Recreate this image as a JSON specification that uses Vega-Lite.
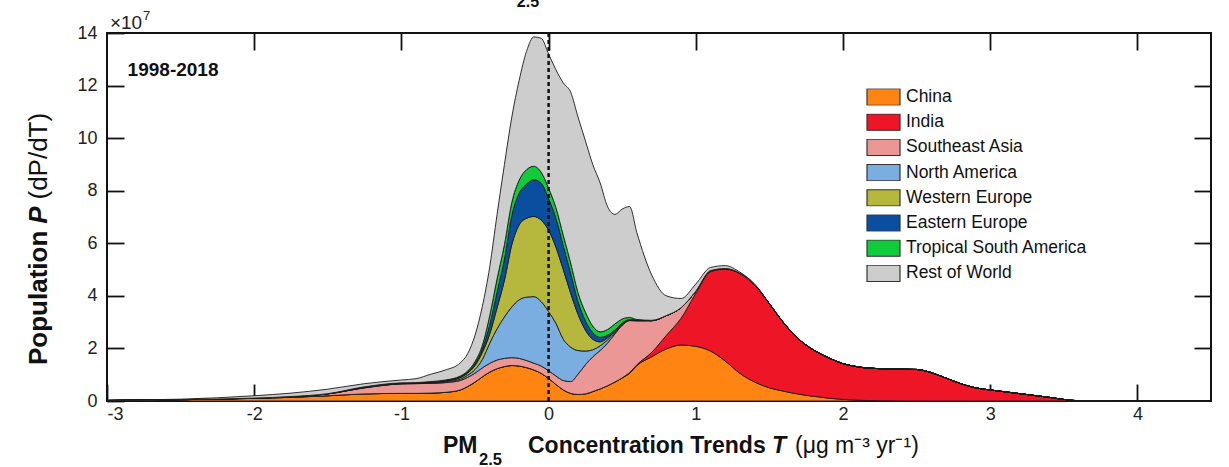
{
  "$schema": "https://vega.github.io/schema/vega-lite/v6.json",
  "width": 1104,
  "height": 368,
  "autosize": "none",
  "padding": {"left": 107, "top": 33, "right": 18, "bottom": 66},
  "config": {
    "font": "Liberation Sans",
    "view": {"stroke": "#111", "strokeWidth": 2},
    "text": {"font": "Liberation Sans", "color": "#111"},
    "axis": {"grid": false, "domain": false, "tickColor": "#111", "tickWidth": 1.8, "labelColor": "#222", "labelFontSize": 18, "titleColor": "#111", "labelFont": "Liberation Sans", "titleFont": "Liberation Sans"}
  },
  "data": {"values": [
    {"T": -3.0, "China": 0.02, "India": 0, "Southeast Asia": 0, "North America": 0, "Western Europe": 0, "Eastern Europe": 0, "Tropical South America": 0, "Rest of World": 0.01},
    {"T": -2.5, "China": 0.05, "India": 0, "Southeast Asia": 0, "North America": 0, "Western Europe": 0, "Eastern Europe": 0, "Tropical South America": 0, "Rest of World": 0.02},
    {"T": -2.0, "China": 0.10, "India": 0, "Southeast Asia": 0.01, "North America": 0, "Western Europe": 0, "Eastern Europe": 0, "Tropical South America": 0, "Rest of World": 0.09},
    {"T": -1.75, "China": 0.14, "India": 0, "Southeast Asia": 0.03, "North America": 0, "Western Europe": 0, "Eastern Europe": 0, "Tropical South America": 0, "Rest of World": 0.13},
    {"T": -1.5, "China": 0.20, "India": 0, "Southeast Asia": 0.07, "North America": 0, "Western Europe": 0.01, "Eastern Europe": 0, "Tropical South America": 0, "Rest of World": 0.17},
    {"T": -1.25, "China": 0.27, "India": 0, "Southeast Asia": 0.23, "North America": 0.01, "Western Europe": 0.01, "Eastern Europe": 0.01, "Tropical South America": 0.01, "Rest of World": 0.12},
    {"T": -1.0, "China": 0.29, "India": 0, "Southeast Asia": 0.36, "North America": 0.01, "Western Europe": 0.01, "Eastern Europe": 0.01, "Tropical South America": 0.01, "Rest of World": 0.11},
    {"T": -0.9, "China": 0.29, "India": 0, "Southeast Asia": 0.37, "North America": 0.01, "Western Europe": 0.01, "Eastern Europe": 0.01, "Tropical South America": 0.01, "Rest of World": 0.15},
    {"T": -0.8, "China": 0.30, "India": 0, "Southeast Asia": 0.37, "North America": 0.02, "Western Europe": 0.02, "Eastern Europe": 0.01, "Tropical South America": 0.02, "Rest of World": 0.28},
    {"T": -0.7, "China": 0.33, "India": 0, "Southeast Asia": 0.37, "North America": 0.03, "Western Europe": 0.03, "Eastern Europe": 0.02, "Tropical South America": 0.02, "Rest of World": 0.38},
    {"T": -0.6, "China": 0.42, "India": 0, "Southeast Asia": 0.36, "North America": 0.05, "Western Europe": 0.06, "Eastern Europe": 0.03, "Tropical South America": 0.03, "Rest of World": 0.50},
    {"T": -0.55, "China": 0.55, "India": 0, "Southeast Asia": 0.35, "North America": 0.08, "Western Europe": 0.08, "Eastern Europe": 0.04, "Tropical South America": 0.04, "Rest of World": 0.66},
    {"T": -0.5, "China": 0.72, "India": 0, "Southeast Asia": 0.34, "North America": 0.14, "Western Europe": 0.15, "Eastern Europe": 0.07, "Tropical South America": 0.08, "Rest of World": 1.00},
    {"T": -0.45, "China": 0.92, "India": 0, "Southeast Asia": 0.34, "North America": 0.32, "Western Europe": 0.27, "Eastern Europe": 0.13, "Tropical South America": 0.14, "Rest of World": 1.48},
    {"T": -0.4, "China": 1.10, "India": 0, "Southeast Asia": 0.33, "North America": 0.77, "Western Europe": 0.35, "Eastern Europe": 0.35, "Tropical South America": 0.35, "Rest of World": 1.85},
    {"T": -0.35, "China": 1.23, "India": 0, "Southeast Asia": 0.33, "North America": 1.19, "Western Europe": 0.80, "Eastern Europe": 0.60, "Tropical South America": 0.50, "Rest of World": 2.45},
    {"T": -0.3, "China": 1.31, "India": 0, "Southeast Asia": 0.31, "North America": 1.58, "Western Europe": 1.40, "Eastern Europe": 0.80, "Tropical South America": 0.55, "Rest of World": 3.05},
    {"T": -0.25, "China": 1.35, "India": 0, "Southeast Asia": 0.30, "North America": 1.93, "Western Europe": 2.37, "Eastern Europe": 1.10, "Tropical South America": 0.50, "Rest of World": 3.25},
    {"T": -0.2, "China": 1.33, "India": 0, "Southeast Asia": 0.29, "North America": 2.23, "Western Europe": 2.85, "Eastern Europe": 1.20, "Tropical South America": 0.50, "Rest of World": 3.80},
    {"T": -0.15, "China": 1.27, "India": 0, "Southeast Asia": 0.27, "North America": 2.41, "Western Europe": 3.00, "Eastern Europe": 1.30, "Tropical South America": 0.55, "Rest of World": 4.50},
    {"T": -0.1, "China": 1.18, "India": 0, "Southeast Asia": 0.26, "North America": 2.53, "Western Europe": 3.05, "Eastern Europe": 1.40, "Tropical South America": 0.51, "Rest of World": 4.92},
    {"T": -0.05, "China": 1.05, "India": 0, "Southeast Asia": 0.28, "North America": 2.45, "Western Europe": 3.10, "Eastern Europe": 1.40, "Tropical South America": 0.42, "Rest of World": 5.10},
    {"T": 0.0, "China": 0.86, "India": 0, "Southeast Asia": 0.29, "North America": 2.25, "Western Europe": 3.10, "Eastern Europe": 1.20, "Tropical South America": 0.40, "Rest of World": 5.10},
    {"T": 0.05, "China": 0.63, "India": 0, "Southeast Asia": 0.32, "North America": 2.00, "Western Europe": 2.90, "Eastern Europe": 1.10, "Tropical South America": 0.40, "Rest of World": 5.25},
    {"T": 0.1, "China": 0.42, "India": 0, "Southeast Asia": 0.36, "North America": 1.57, "Western Europe": 2.65, "Eastern Europe": 0.90, "Tropical South America": 0.40, "Rest of World": 5.80},
    {"T": 0.15, "China": 0.29, "India": 0, "Southeast Asia": 0.45, "North America": 1.31, "Western Europe": 2.05, "Eastern Europe": 0.75, "Tropical South America": 0.40, "Rest of World": 6.50},
    {"T": 0.2, "China": 0.25, "India": 0, "Southeast Asia": 0.77, "North America": 0.90, "Western Europe": 1.38, "Eastern Europe": 0.48, "Tropical South America": 0.34, "Rest of World": 6.68},
    {"T": 0.25, "China": 0.27, "India": 0, "Southeast Asia": 1.11, "North America": 0.52, "Western Europe": 0.80, "Eastern Europe": 0.35, "Tropical South America": 0.33, "Rest of World": 6.52},
    {"T": 0.3, "China": 0.36, "India": 0, "Southeast Asia": 1.32, "North America": 0.27, "Western Europe": 0.40, "Eastern Europe": 0.25, "Tropical South America": 0.25, "Rest of World": 6.15},
    {"T": 0.35, "China": 0.46, "India": 0, "Southeast Asia": 1.46, "North America": 0.18, "Western Europe": 0.15, "Eastern Europe": 0.17, "Tropical South America": 0.21, "Rest of World": 5.67},
    {"T": 0.4, "China": 0.58, "India": 0, "Southeast Asia": 1.62, "North America": 0.12, "Western Europe": 0.08, "Eastern Europe": 0.10, "Tropical South America": 0.22, "Rest of World": 4.68},
    {"T": 0.45, "China": 0.72, "India": 0, "Southeast Asia": 1.83, "North America": 0.05, "Western Europe": 0.04, "Eastern Europe": 0.06, "Tropical South America": 0.23, "Rest of World": 4.17},
    {"T": 0.5, "China": 0.88, "India": 0, "Southeast Asia": 2.00, "North America": 0.03, "Western Europe": 0.02, "Eastern Europe": 0.03, "Tropical South America": 0.16, "Rest of World": 4.18},
    {"T": 0.55, "China": 1.05, "India": 0.03, "Southeast Asia": 1.98, "North America": 0.02, "Western Europe": 0.01, "Eastern Europe": 0.01, "Tropical South America": 0.08, "Rest of World": 4.22},
    {"T": 0.6, "China": 1.35, "India": 0.03, "Southeast Asia": 1.67, "North America": 0.01, "Western Europe": 0.01, "Eastern Europe": 0.01, "Tropical South America": 0.02, "Rest of World": 3.30},
    {"T": 0.7, "China": 1.68, "India": 0.17, "Southeast Asia": 1.20, "North America": 0.01, "Western Europe": 0, "Eastern Europe": 0, "Tropical South America": 0.01, "Rest of World": 1.73},
    {"T": 0.8, "China": 1.98, "India": 0.52, "Southeast Asia": 0.75, "North America": 0, "Western Europe": 0, "Eastern Europe": 0, "Tropical South America": 0, "Rest of World": 0.75},
    {"T": 0.9, "China": 2.13, "India": 1.02, "Southeast Asia": 0.40, "North America": 0, "Western Europe": 0, "Eastern Europe": 0, "Tropical South America": 0, "Rest of World": 0.35},
    {"T": 1.0, "China": 2.08, "India": 2.02, "Southeast Asia": 0.08, "North America": 0, "Western Europe": 0, "Eastern Europe": 0, "Tropical South America": 0, "Rest of World": 0.27},
    {"T": 1.1, "China": 1.90, "India": 3.02, "Southeast Asia": 0.04, "North America": 0, "Western Europe": 0, "Eastern Europe": 0, "Tropical South America": 0, "Rest of World": 0.12},
    {"T": 1.2, "China": 1.52, "India": 3.50, "Southeast Asia": 0.02, "North America": 0, "Western Europe": 0, "Eastern Europe": 0, "Tropical South America": 0, "Rest of World": 0.11},
    {"T": 1.3, "China": 1.05, "India": 3.80, "Southeast Asia": 0.01, "North America": 0, "Western Europe": 0, "Eastern Europe": 0, "Tropical South America": 0, "Rest of World": 0.04},
    {"T": 1.4, "China": 0.72, "India": 3.70, "Southeast Asia": 0, "North America": 0, "Western Europe": 0, "Eastern Europe": 0, "Tropical South America": 0, "Rest of World": 0.03},
    {"T": 1.5, "China": 0.50, "India": 3.20, "Southeast Asia": 0, "North America": 0, "Western Europe": 0, "Eastern Europe": 0, "Tropical South America": 0, "Rest of World": 0.01},
    {"T": 1.6, "China": 0.37, "India": 2.58, "Southeast Asia": 0, "North America": 0, "Western Europe": 0, "Eastern Europe": 0, "Tropical South America": 0, "Rest of World": 0.01},
    {"T": 1.7, "China": 0.26, "India": 2.09, "Southeast Asia": 0, "North America": 0, "Western Europe": 0, "Eastern Europe": 0, "Tropical South America": 0, "Rest of World": 0},
    {"T": 1.8, "China": 0.18, "India": 1.76, "Southeast Asia": 0, "North America": 0, "Western Europe": 0, "Eastern Europe": 0, "Tropical South America": 0, "Rest of World": 0},
    {"T": 1.9, "China": 0.11, "India": 1.54, "Southeast Asia": 0, "North America": 0, "Western Europe": 0, "Eastern Europe": 0, "Tropical South America": 0, "Rest of World": 0},
    {"T": 2.0, "China": 0.06, "India": 1.36, "Southeast Asia": 0, "North America": 0, "Western Europe": 0, "Eastern Europe": 0, "Tropical South America": 0, "Rest of World": 0},
    {"T": 2.1, "China": 0.03, "India": 1.27, "Southeast Asia": 0, "North America": 0, "Western Europe": 0, "Eastern Europe": 0, "Tropical South America": 0, "Rest of World": 0},
    {"T": 2.25, "China": 0.01, "India": 1.22, "Southeast Asia": 0, "North America": 0, "Western Europe": 0, "Eastern Europe": 0, "Tropical South America": 0, "Rest of World": 0},
    {"T": 2.5, "China": 0, "India": 1.20, "Southeast Asia": 0, "North America": 0, "Western Europe": 0, "Eastern Europe": 0, "Tropical South America": 0, "Rest of World": 0},
    {"T": 2.6, "China": 0, "India": 1.08, "Southeast Asia": 0, "North America": 0, "Western Europe": 0, "Eastern Europe": 0, "Tropical South America": 0, "Rest of World": 0},
    {"T": 2.7, "China": 0, "India": 0.87, "Southeast Asia": 0, "North America": 0, "Western Europe": 0, "Eastern Europe": 0, "Tropical South America": 0, "Rest of World": 0},
    {"T": 2.8, "China": 0, "India": 0.66, "Southeast Asia": 0, "North America": 0, "Western Europe": 0, "Eastern Europe": 0, "Tropical South America": 0, "Rest of World": 0},
    {"T": 2.9, "China": 0, "India": 0.50, "Southeast Asia": 0, "North America": 0, "Western Europe": 0, "Eastern Europe": 0, "Tropical South America": 0, "Rest of World": 0},
    {"T": 3.0, "China": 0, "India": 0.42, "Southeast Asia": 0, "North America": 0, "Western Europe": 0, "Eastern Europe": 0, "Tropical South America": 0, "Rest of World": 0},
    {"T": 3.2, "China": 0, "India": 0.28, "Southeast Asia": 0, "North America": 0, "Western Europe": 0, "Eastern Europe": 0, "Tropical South America": 0, "Rest of World": 0},
    {"T": 3.4, "China": 0, "India": 0.14, "Southeast Asia": 0, "North America": 0, "Western Europe": 0, "Eastern Europe": 0, "Tropical South America": 0, "Rest of World": 0},
    {"T": 3.5, "China": 0, "India": 0.06, "Southeast Asia": 0, "North America": 0, "Western Europe": 0, "Eastern Europe": 0, "Tropical South America": 0, "Rest of World": 0},
    {"T": 3.6, "China": 0, "India": 0.01, "Southeast Asia": 0, "North America": 0, "Western Europe": 0, "Eastern Europe": 0, "Tropical South America": 0, "Rest of World": 0},
    {"T": 3.8, "China": 0, "India": 0, "Southeast Asia": 0, "North America": 0, "Western Europe": 0, "Eastern Europe": 0, "Tropical South America": 0, "Rest of World": 0},
    {"T": 4.5, "China": 0, "India": 0, "Southeast Asia": 0, "North America": 0, "Western Europe": 0, "Eastern Europe": 0, "Tropical South America": 0, "Rest of World": 0}
  ]},
  "layer": [
    {
      "transform": [
        {"fold": ["China", "India", "Southeast Asia", "North America", "Western Europe", "Eastern Europe", "Tropical South America", "Rest of World"], "as": ["region", "P"]},
        {"calculate": "indexof(['China','India','Southeast Asia','North America','Western Europe','Eastern Europe','Tropical South America','Rest of World'], datum.region)", "as": "k"}
      ],
      "mark": {"type": "area", "interpolate": "monotone", "stroke": "#1a1a1a", "strokeWidth": 0.9},
      "encoding": {
        "x": {"field": "T", "type": "quantitative", "scale": {"domain": [-3, 4.5], "nice": false, "zero": false},
          "axis": {"orient": "bottom", "values": [-3, -2, -1, 0, 1, 2, 3, 4], "tickSize": -17, "labelPadding": 21, "labelExpr": "'' + datum.value", "title": null}},
        "y": {"field": "P", "type": "quantitative", "stack": "zero", "scale": {"domain": [0, 14], "nice": false},
          "axis": {"orient": "left", "values": [0, 2, 4, 6, 8, 10, 12, 14], "tickSize": -17, "labelPadding": 27, "title": null}},
        "color": {"field": "region", "type": "nominal",
          "scale": {"domain": ["China", "India", "Southeast Asia", "North America", "Western Europe", "Eastern Europe", "Tropical South America", "Rest of World"],
                    "range": ["#FF8412", "#EE1526", "#EB9796", "#7AAEE0", "#B5B83C", "#0A4F9F", "#10CB3A", "#CDCDCD"]},
          "legend": {"orient": "none", "legendX": 759, "legendY": 55.5, "title": null, "symbolType": "M-1,-0.5H1V0.5H-1Z", "symbolSize": 1089, "symbolStrokeColor": "#333", "symbolStrokeWidth": 1.2, "symbolOpacity": 1, "clipHeight": 17, "rowPadding": 7.2, "labelFontSize": 17.5, "labelFont": "Liberation Sans", "labelColor": "#111", "labelOffset": 5, "labelLimit": 400}},
        "order": {"field": "k", "type": "quantitative"}
      }
    },
    {
      "data": {"values": [{}]},
      "mark": {"type": "rule", "strokeDash": [4, 3], "strokeWidth": 2.5, "color": "#111"},
      "encoding": {
        "x": {"datum": 0, "type": "quantitative", "axis": {"orient": "top", "values": [-2, -1, 0, 1, 2, 3, 4], "tickSize": -17, "labels": false, "title": null}},
        "y": {"datum": 0, "type": "quantitative", "axis": {"orient": "right", "values": [2, 4, 6, 8, 10, 12], "tickSize": -17, "labels": false, "title": null}},
        "y2": {"datum": 14}
      }
    },
    {
      "data": {"values": [{}]},
      "mark": {"type": "text", "text": "1998-2018", "fontWeight": "bold", "fontSize": 19, "align": "left", "baseline": "middle"},
      "encoding": {"x": {"datum": -2.86, "type": "quantitative", "axis": null}, "y": {"datum": 12.6, "type": "quantitative", "axis": null}}
    },
    {
      "data": {"values": [{}]},
      "mark": {"type": "text", "text": "×10", "fontSize": 19, "align": "left", "baseline": "alphabetic", "color": "#222"},
      "encoding": {"x": {"datum": -2.98, "type": "quantitative", "axis": null}, "y": {"datum": 14.16, "type": "quantitative", "axis": null}}
    },
    {
      "data": {"values": [{}]},
      "mark": {"type": "text", "text": "7", "fontSize": 13, "align": "left", "baseline": "alphabetic", "color": "#222"},
      "encoding": {"x": {"datum": -2.755, "type": "quantitative", "axis": null}, "y": {"datum": 14.5, "type": "quantitative", "axis": null}}
    },
    {
      "data": {"values": [{}]},
      "mark": {"type": "text", "text": "PM", "fontSize": 23, "fontWeight": "bold", "align": "left", "baseline": "alphabetic"},
      "encoding": {"x": {"datum": -0.7174, "type": "quantitative", "axis": null}, "y": {"datum": -1.97, "type": "quantitative", "axis": null}}
    },
    {
      "data": {"values": [{}]},
      "mark": {"type": "text", "text": "2.5", "fontSize": 16.5, "fontWeight": "bold", "align": "left", "baseline": "alphabetic"},
      "encoding": {"x": {"datum": -0.473, "type": "quantitative", "axis": null}, "y": {"datum": -2.42, "type": "quantitative", "axis": null}}
    },
    {
      "data": {"values": [{}]},
      "mark": {"type": "text", "text": "Concentration Trends", "fontSize": 23, "fontWeight": "bold", "align": "left", "baseline": "alphabetic"},
      "encoding": {"x": {"datum": -0.14, "type": "quantitative", "axis": null}, "y": {"datum": -1.97, "type": "quantitative", "axis": null}}
    },
    {
      "data": {"values": [{}]},
      "mark": {"type": "text", "text": "T", "fontSize": 23, "fontWeight": "bold", "fontStyle": "italic", "align": "left", "baseline": "alphabetic"},
      "encoding": {"x": {"datum": 1.518, "type": "quantitative", "axis": null}, "y": {"datum": -1.97, "type": "quantitative", "axis": null}}
    },
    {
      "data": {"values": [{}]},
      "mark": {"type": "text", "text": "(μg m⁻³ yr⁻¹)", "fontSize": 23, "align": "left", "baseline": "alphabetic"},
      "encoding": {"x": {"datum": 1.674, "type": "quantitative", "axis": null}, "y": {"datum": -1.97, "type": "quantitative", "axis": null}}
    },
    {
      "data": {"values": [{}]},
      "mark": {"type": "text", "text": "Population", "fontSize": 26, "fontWeight": "bold", "align": "left", "baseline": "alphabetic", "angle": 270},
      "encoding": {"x": {"datum": -3.4076, "type": "quantitative", "axis": null}, "y": {"datum": 1.369, "type": "quantitative", "axis": null}}
    },
    {
      "data": {"values": [{}]},
      "mark": {"type": "text", "text": "P", "fontSize": 26, "fontWeight": "bold", "fontStyle": "italic", "align": "left", "baseline": "alphabetic", "angle": 270},
      "encoding": {"x": {"datum": -3.4076, "type": "quantitative", "axis": null}, "y": {"datum": 6.74, "type": "quantitative", "axis": null}}
    },
    {
      "data": {"values": [{}]},
      "mark": {"type": "text", "text": "(dP/dT)", "fontSize": 26, "align": "left", "baseline": "alphabetic", "angle": 270},
      "encoding": {"x": {"datum": -3.4076, "type": "quantitative", "axis": null}, "y": {"datum": 7.665, "type": "quantitative", "axis": null}}
    },
    {
      "data": {"values": [{}]},
      "mark": {"type": "text", "text": "2.5", "fontSize": 16, "fontWeight": "bold", "align": "center", "baseline": "alphabetic"},
      "encoding": {"x": {"datum": -0.14, "type": "quantitative", "axis": null}, "y": {"datum": 14.98, "type": "quantitative", "axis": null}}
    }
  ],
  "resolve": {"axis": {"x": "independent", "y": "independent"}}
}
